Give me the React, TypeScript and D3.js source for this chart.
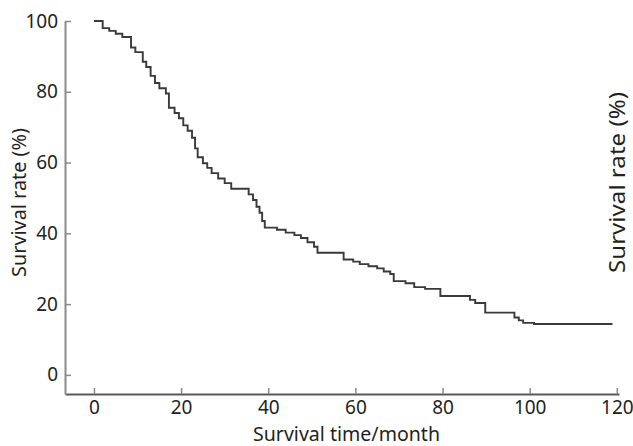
import React, { useEffect, useRef } from 'react';
import * as d3 from 'd3';

// Kaplan-Meier style survival curve
const times = [0, 2, 3.5, 5, 6.5, 8.5, 9.5, 11.2, 12, 13, 14, 15, 16.5, 17.2, 18.5, 19.5, 20.5, 21.5, 22.5, 23.2, 23.8, 25, 26, 27, 28.5, 30, 31.5, 35.5, 36.5, 37.3, 38, 38.6, 39.2, 42, 44, 46, 47.5, 49, 50.5, 51.3, 57.3, 59.5, 61, 63, 65, 66.5, 68, 68.8, 71.5, 73.5, 76, 79.5, 86.3, 87.5, 89.8, 96.5, 97.5, 98.5, 101, 119];
const survival = [100, 98, 97.2, 96.4, 95.5, 92.5, 91.2, 88.5, 87, 84.5, 82.5, 81, 79.5, 75.5, 74, 72.5, 70.5, 69, 67, 64, 61.5, 59.8, 58.5, 57, 55.5, 54.2, 52.6, 51, 49.4, 47.5, 45.8, 43.5, 41.6, 41, 40.2, 39.5, 38.7, 37.5, 36.2, 34.5, 32.6, 32, 31.3, 30.7, 30.1, 29.2, 28.5, 26.5, 25.9, 24.8, 24.3, 22.3, 21.2, 20.3, 17.6, 16.2, 15.4, 14.7, 14.4, 14.4];

const xTicks = [0, 20, 40, 60, 80, 100, 120];
const yTicks = [0, 20, 40, 60, 80, 100];

const xTitle = 'Survival time/month';
const yTitle = 'Survival rate (%)';

const FONT = '"Noto Sans", "Open Sans", sans-serif';

const SurvivalChart = () => {
  const svgRef = useRef<SVGSVGElement>(null);

  useEffect(() => {
    const width = 633;
    const height = 446;

    const svg = d3.select(svgRef.current)
      .attr('width', width)
      .attr('height', height);

    svg.selectAll('*').remove();

    svg.append('rect')
      .attr('width', width)
      .attr('height', height)
      .attr('fill', '#fff');

    const x = d3.scaleLinear().domain([-6.65, 120.5]).range([65, 619]);
    const y = d3.scaleLinear().domain([-5.4, 100]).range([394, 21]);

    // axes, ticks point inward
    const xAxis = d3.axisBottom(x)
      .tickValues(xTicks)
      .tickSize(-6)
      .tickSizeOuter(0)
      .tickPadding(7);

    const yAxis = d3.axisLeft(y)
      .tickValues(yTicks)
      .tickSize(-6)
      .tickSizeOuter(0)
      .tickPadding(7);

    const gx = svg.append('g')
      .attr('transform', `translate(0, ${y.range()[0]})`)
      .call(xAxis);

    const gy = svg.append('g')
      .attr('transform', `translate(${x.range()[0]}, 0)`)
      .call(yAxis);

    [gx, gy].forEach(g => {
      g.select('.domain').attr('stroke', '#5a5a5a').attr('stroke-width', 2);
      g.selectAll('.tick line').attr('stroke', '#8a8a8a').attr('stroke-width', 1.5);
      g.selectAll('.tick text')
        .attr('fill', '#231f20')
        .attr('font-size', 19)
        .attr('font-family', FONT);
    });
    gy.select('.domain').attr('stroke', '#8a8a8a');

    // survival curve
    const pts = times.map((t, i) => [t, survival[i]] as [number, number]);
    const line = d3.line<[number, number]>()
      .x(d => x(d[0]))
      .y(d => y(d[1]))
      .curve(d3.curveStepAfter);

    svg.append('path')
      .datum(pts)
      .attr('d', line)
      .attr('fill', 'none')
      .attr('stroke', '#3a3a3a')
      .attr('stroke-width', 1.9);

    // titles
    svg.append('text')
      .attr('x', 346.5)
      .attr('y', 441)
      .attr('text-anchor', 'middle')
      .attr('font-size', 20)
      .attr('font-family', FONT)
      .attr('fill', '#231f20')
      .attr('textLength', 187)
      .attr('lengthAdjust', 'spacingAndGlyphs')
      .text(xTitle);

    svg.append('text')
      .attr('transform', 'translate(26, 202.5) rotate(-90)')
      .attr('text-anchor', 'middle')
      .attr('font-size', 19)
      .attr('font-family', FONT)
      .attr('fill', '#231f20')
      .attr('textLength', 149)
      .attr('lengthAdjust', 'spacingAndGlyphs')
      .text(yTitle);

    svg.append('text')
      .attr('transform', 'translate(625, 182.5) rotate(-90)')
      .attr('text-anchor', 'middle')
      .attr('font-size', 22)
      .attr('font-family', FONT)
      .attr('fill', '#231f20')
      .attr('textLength', 181)
      .attr('lengthAdjust', 'spacingAndGlyphs')
      .text(yTitle);
  }, []);

  return <svg ref={svgRef} style={{ position: 'absolute', left: 0, top: 0 }} />;
};

export default function App() {
  return <SurvivalChart />;
}
